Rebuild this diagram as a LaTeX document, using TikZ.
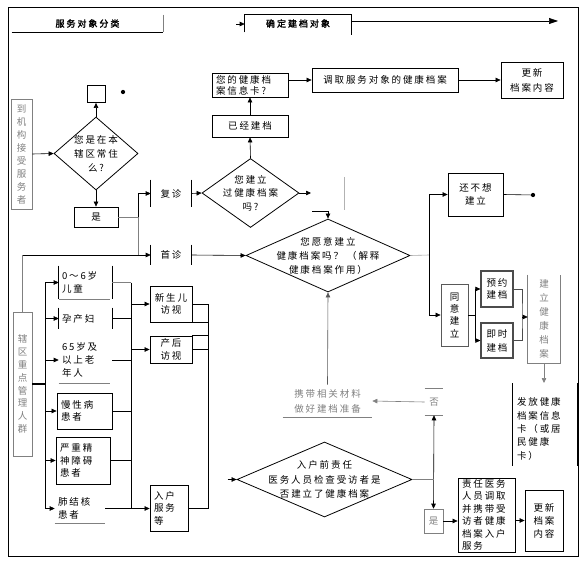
\documentclass[tikz,border=0pt]{standalone}
\usepackage{fontspec}
\setmainfont{Noto Sans CJK SC}[LetterSpace=20]
\newfontfamily\ttlfont{Noto Sans CJK SC}[FakeBold=2,LetterSpace=22]
\usetikzlibrary{shapes.geometric,arrows.meta}

\begin{document}
\begin{tikzpicture}[x=1pt,y=-1pt,
    line width=0.6pt,
    txt/.style={font=\fontsize{9.5}{12.5}\selectfont, inner sep=0pt, align=center},
    box/.style={txt, draw, line width=0.8pt},
    lbox/.style={box, align=left, inner xsep=4pt},
    faint/.style={txt, draw=gray, text=gray},
    upright/.style={font=\fontsize{9.5}{13}\selectfont},
    decide/.style={diamond, draw, line width=0.8pt, inner sep=0pt},
    ttl/.style={txt, font=\ttlfont\fontsize{9}{12}\selectfont},
    arr/.style={-{Triangle[length=5pt,width=4.5pt]}},
    dot/.style={circle, fill, inner sep=1.5pt}
]
\useasboundingbox (0,0) rectangle (586,564);
\draw (8,7) rectangle (578,556);

% titles
\node[ttl, minimum width=151pt, minimum height=17pt] (cls) at (87.5,23.5) {服务对象分类};
\draw (cls.south west) -- (cls.south east);
\draw[gray] (cls.north east) -- (cls.south east);
\node[ttl, minimum width=106pt, minimum height=17pt] (target) at (298,23.5) {确定建档对象};
\draw (target.south west) |- (target.north east) -- ([yshift=-3pt]target.south east);
\coordinate (flow) at (558,21);
\draw[-{Triangle[length=9pt,width=6pt]}] ([yshift=2.5pt]target.east) -- (flow);
\draw[arr] (236,24) -- (target.west |- 0,24);

% residents arriving at the clinic
\node[faint, upright, minimum width=21pt, minimum height=110pt] (visit) at (21.5,154) {到\\机\\构\\接\\受\\服\\务\\者};
\node[decide, minimum width=84pt, minimum height=73pt,
  label={[txt, font=\fontsize{9.5}{14}\selectfont]center:{您是在本\\辖区常住\\么?}}] (d1) at (96,153.5) {};
\node[box, minimum width=18pt, minimum height=17pt] (sq) at (96,94) {};
\node[dot] (dot1) at (123,92) {};
\node[box, minimum width=44pt, minimum height=20pt] (yes1) at (96,217) {是};

\node[txt, minimum width=40pt, minimum height=27pt] (fz) at (171,193.5) {复诊};
\draw (fz.north west) -- (fz.south west) (fz.north east) -- (fz.south east);
\node[txt, minimum width=40pt, minimum height=20pt] (sz) at (171,255) {首诊};
\draw (sz.north west) -- (sz.south west) (sz.north east) -- (sz.south east);

\node[decide, minimum width=97pt, minimum height=69pt,
  label={[txt, font=\fontsize{9.5}{13.5}\selectfont]center:{您建立\\过健康档案\\吗?}}] (d2) at (250.5,193) {};
\node[box, minimum width=76pt, minimum height=22pt] (built) at (250,126) {已经建档};
\node[lbox, text width=68pt, minimum height=24pt, font=\fontsize{9.5}{11}\selectfont] (card) at (250,85) {您的健康档\\案信息卡?};
\node[box, minimum width=146pt, minimum height=24pt] (fetch) at (385,80) {调取服务对象的健康档案};
\node[box, minimum width=62pt, minimum height=36pt, font=\fontsize{9.5}{15}\selectfont] (upd1) at (532,80) {更新\\档案内容};

\node[decide, minimum width=164pt, minimum height=73pt,
  label={[txt, font=\fontsize{9.5}{14}\selectfont]center:{您愿意建立\\健康档案吗？ （解释\\健康档案作用）}}] (d3) at (328,255.5) {};
\node[box, minimum width=55pt, minimum height=43pt] (notyet) at (475.5,194.5) {还不想\\建立};
\node[dot] (dot2) at (533,195) {};
\node[box, draw=gray!70!black, upright, font=\fontsize{9.5}{12.3}\selectfont, minimum width=27pt, minimum height=62pt] (agree) at (454.5,315) {同\\意\\建\\立};
\node[box, draw=gray!60!black, line width=1.2pt, minimum width=32pt, minimum height=36pt] (appt) at (497,289) {预约\\建档};
\node[box, draw=gray!60!black, line width=1.2pt, minimum width=32pt, minimum height=35pt, font=\fontsize{9.5}{14}\selectfont] (now) at (497,340.5) {即时\\建档};
\node[txt, text=gray, font=\fontsize{9.5}{14}\selectfont, minimum width=32pt, minimum height=88pt] (jl) at (544,319) {建\\立\\健\\康\\档\\案};
\draw[gray] (jl.north west) |- (jl.south east) -- (jl.north east);
\node[txt, align=left, text width=56pt, inner xsep=4pt, minimum height=83pt, font=\fontsize{9.5}{13.3}\selectfont] (issue) at (545,429) {发放健康\\档案信息\\卡（或居\\民健康\\卡）};
\draw (issue.north west |- 0,383) -- (issue.south west |- 0,466) (issue.north east |- 0,383) -- (issue.south east |- 0,466);

% no file yet
\node[txt, text=gray, font=\fontsize{9.5}{15}\selectfont, minimum width=89pt, minimum height=32pt] (prep) at (327.5,401) {携带相关材料\\做好建档准备};
\draw[gray] (prep.south west) -- (prep.south east);
\node[txt, text=gray, minimum width=18pt, minimum height=26pt] (no) at (434,402) {否};
\draw[gray] (no.north west) -- (no.north east) (no.south west) -- (no.south east);
\node[faint, minimum width=19pt, minimum height=24pt] (yes2) at (433.5,521) {是};
\node[decide, minimum width=175pt, minimum height=75pt,
  label={[txt, font=\fontsize{9.5}{14.5}\selectfont]center:{入户前责任\\医务人员检查受访者是\\否建立了健康档案}}] (d4) at (324.5,479.5) {};
\node[lbox, text width=49pt, minimum height=74pt] (duty) at (486.5,515) {责任医务\\人员调取\\并携带受\\访者健康\\档案入户\\服务};
\node[box, minimum width=38pt, minimum height=61pt, font=\fontsize{9.5}{13}\selectfont] (upd2) at (544,520.5) {更新\\档案\\内容};

% key groups in the district
\node[faint, upright, font=\fontsize{9.5}{12.9}\selectfont, minimum width=19pt, minimum height=144pt] (key) at (22.5,384) {辖\\区\\重\\点\\管\\理\\人\\群};
\node[txt, align=left, text width=47pt, inner xsep=3pt, minimum height=33pt] (g1) at (85.5,282.5) {0～6岁\\儿童};
\node[txt, align=left, text width=47pt, inner xsep=3pt, minimum height=21pt] (g2) at (85.5,318.5) {孕产妇};
\node[txt, align=left, text width=47pt, inner xsep=3pt, minimum height=42pt, font=\fontsize{9.5}{13}\selectfont] (g3) at (85.5,360) {65岁及\\以上老\\年人};
\node[lbox, text width=47pt, minimum height=36pt] (g4) at (84.5,411) {慢性病\\患者};
\node[lbox, text width=46pt, minimum height=47pt] (g5) at (83,460.5) {严重精\\神障碍\\患者};
\node[txt, align=left, text width=44pt, inner xsep=3pt, minimum height=29pt] (g6) at (80,508.5) {肺结核\\患者};
\draw (g1.north west) -- (g1.south west) (g1.north east) -- (g1.south east);
\draw[gray] (g1.south west) -- ([xshift=-2pt]g1.south east);
\draw (g2.north west) -- (g2.south west) (g2.north east) -- (g2.south east);
\draw[gray] ([yshift=-2pt]g3.south west) -- ([xshift=-2pt,yshift=-2pt]g3.south east);
\draw[gray] (g6.south west) -- (g6.south east);
\node[box, minimum width=42pt, minimum height=36pt] (nb) at (171,304) {新生儿\\访视};
\node[box, minimum width=42pt, minimum height=27pt] (pp) at (171,349.5) {产后\\访视};
\node[lbox, text width=30pt, minimum height=46pt] (home) at (169,508) {入户\\服务\\等};

% connectors
\draw[arr] (visit.east) -- (d1.west);
\draw[arr] (d1.north) -- (sq.south);
\draw[arr] (d1.south) -- (yes1.north);
\coordinate (fork) at (138,217);
\draw[gray] (yes1.east) -- (fork) -- (fork |- sz.west);
\draw[arr] (fork) |- (fz.west);
\draw[gray] (key.north) -- (key.north |- sz.west);
\draw[arr] (key.north |- sz.west) -- (sz.west);
\draw[arr] (fz.east) -- (d2.west);
\coordinate (c1) at (311,193);
\draw[arr] (d2.east) -- (c1);
\draw[arr] (d2.north) -- (built.south);
\draw[arr] (built.north) -- (card.south);
\draw[arr] (card.east |- fetch.west) -- (fetch.west);
\draw[arr] (fetch.east) -- (upd1.west);
\coordinate (c2) at (312,211);
\draw[arr] (c2) -| (d3.north);
\draw[gray!60] (344,177) -- (344,210);
\draw[arr] (sz.east) -- (d3.west);

\coordinate (split) at (429,255);
\draw[gray!70] (d3.east) -- (split);
\draw (split |- notyet.west) -- (split |- agree.west);
\draw[arr] (split |- notyet.west) -- (notyet.west);
\draw[arr] (split |- agree.west) -- (agree.west);
\draw (notyet.east) -- (dot2);
\coordinate (br) at (475,315);
\draw (agree.east) -- (br);
\draw[arr] (br) |- (appt.west);
\draw[arr] (br) |- (now.west);
\coordinate (jn) at (522,317);
\draw[gray!60!black, line width=1pt] (appt.east) -| (jn) |- (now.east);
\draw[arr] (jn) -- (jn -| jl.west);
\draw[gray, arr] (jl.south) -- (jl.south |- issue.north |- 0,383);

\draw[arr, gray!70!black] (prep.north) -- (d3.south);
\draw[gray, arr] (no.west) -- (prep.east);
\draw[{Triangle[length=5pt,width=4.5pt]}-{Triangle[length=5pt,width=4.5pt]}] (no.south) -- (yes2.north);
\draw[gray] (d4.east) -- (d4.east -| yes2.north);
\draw[arr] ([xshift=-9pt]d4.west) -- (d4.west);
\draw[arr] (yes2.east) -- (yes2.east -| duty.west);
\draw[arr] (duty.east |- upd2.west) -- (upd2.west);

\coordinate (spine) at (45,383);
\draw[line width=1.5pt] (key.east) -- (key.east -| spine);
\draw (spine |- g1.west) -- (spine |- g6.west);
\foreach \g in {g1,g2,g3,g4,g5,g6}
  \draw[arr] (spine |- \g.west) -- (\g.west);
\coordinate (coll) at (131,400);
\draw (coll |- g1.east) -- (coll |- g6.east);
\draw[gray, line width=1pt] (g1.east) -- (coll |- g1.east);
\foreach \g in {g2,g3,g4,g5}
  \draw (\g.east) -- (coll |- \g.east);
\draw[arr] (coll |- nb.west) -- (nb.west);
\draw[arr] (coll |- pp.west) -- (pp.west);
\draw[arr] (g6.east) -- (g6.east -| home.west);

\coordinate (rail) at (208,400);
\draw (nb.east) -- (nb.east -| rail) (nb.south east) -- (nb.south east -| rail);
\draw (pp.north east) -- (pp.north east -| rail) (pp.east) -- (pp.east -| rail);
\draw (rail |- nb.east) -- (rail |- home.east) -- (home.east);

\end{tikzpicture}
\end{document}
